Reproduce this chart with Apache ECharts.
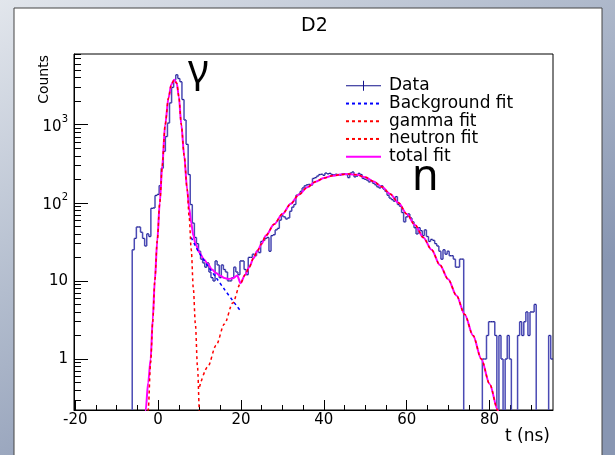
<!DOCTYPE html>
<html><head><meta charset="utf-8">
<script src="https://cdn.jsdelivr.net/npm/echarts@6/dist/echarts.min.js"></script>
<style>html,body{margin:0;padding:0;background:#b8c2d2;}#c{width:615px;height:455px;}</style>
</head><body><div id="c"></div>
<script>
// ---- data ----
const binStart = -6.25;
const binWidth = 0.5;
const counts = [
 25,35,49,49,42,35,28,40,37,85,
 86,124,128,166,277,456,705,1050,1900,3000,
 3750,4350,3900,3550,2100,1150,560,230,95,55,
 36,30,24,19,17,15,17,13,11,10,
 18,16,11,16,14,13,10,10,11,15,
 13,12,18,18,14,12,20,20,22,21,
 24,23,32,33,35,36,24,38,39,45,
 47,60,68,66,62,64,78,88,95,125,
 128,140,155,165,170,172,168,205,210,220,
 230,232,225,240,235,238,230,228,232,228,
 226,234,236,230,210,240,248,215,220,238,
 230,205,200,195,185,190,178,170,160,155,
 165,150,140,125,115,110,105,120,95,90,
 75,57,66,72,64,57,48,40,48,44,
 38,45,37,32,34,33,30,28,24,19,
 25,22,24,21,21,19,15,15,19,19,
 0,0,0,0,0,0,0,0,0,1,
 1,2,3,3,3,2,0,2,1,0,
 1,2,1,0,0,0,2,3,2,3,
 4,2,4,4,5,0,0,0,0,0,
 0,2,1
];
const totalFit = [[-3.3,0.15],[-3.0,0.22],[-2.4,0.5],[-1.8,1.0],[-1.3,3.2],[-0.8,10],[-0.2,33],[0.4,100],[1.0,300],[1.7,1000],[2.5,2200],[3.2,3300],[3.9,3750],[4.5,3400],[5.0,2300],[5.6,1000],[6.3,400],[7.0,150],[7.5,85],[8.0,55],[8.5,38],[9.0,30],[10,23],[11,19],[12,16.5],[13,14],[14,12.6],[15,11.6],[16,10.9],[17,10.6],[18,10.8],[19.1,11.7],[19.9,9.35],[21,12],[22,15],[23,19.5],[24,24.5],[25,30],[26,38],[28,53],[30,72],[32,97],[34,128],[36,158],[38,186],[40,207],[42,222],[44,230],[46,234],[48,228],[50,212],[52,188],[54,160],[56,130],[58,100],[60,72],[62,52],[64,36],[66,25],[68,16],[70,10.5],[72,6.5],[74,3.7],[76,2.0],[78,1.0],[80,0.48],[82,0.22],[82.5,0.17]];
const gammaFit = [[-2.6,0.15],[-2.4,0.22],[-1.8,0.9],[-1.3,3.0],[-0.8,10],[-0.2,33],[0.4,100],[1.0,300],[1.7,1000],[2.5,2200],[3.2,3300],[3.9,3750],[4.5,3400],[5.0,2300],[5.6,1000],[6.3,400],[7.0,150],[7.5,65],[8.0,25],[8.5,8],[9.0,2.8],[9.5,0.8],[10.0,0.2],[10.1,0.15]];
const neutronFit = [[10.0,0.44],[12,0.8],[14,1.5],[16,2.8],[18,5.2],[19.9,9.35],[21,12],[22,15],[23,19.5],[24,24.5],[25,30],[26,38],[28,53],[30,72],[32,97],[34,128],[36,158],[38,186],[40,207],[42,222],[44,230],[46,234],[48,228],[50,212],[52,188],[54,160],[56,130],[58,100],[60,72],[62,52],[64,36],[66,25],[68,16],[70,10.5],[72,6.5],[74,3.7],[76,2.0],[78,1.0],[80,0.48],[82,0.22],[82.5,0.17]];
const bgFit = [[8.0,36],[9,28],[10,22.5],[12,15.5],[14,11],[16,7.8],[18,5.6],[20,4.05]];
const xMajorTicks = [-20,0,20,40,60,80];
const xMinorTicks = [-15,-10,-5,5,10,15,25,30,35,45,50,55,65,70,75,85,90];
const yMajorTicks = [1,10,100,1000];
const yTickLabels = {1:'1',10:'10',100:'{b|10}{s|2}',1000:'{b|10}{s|3}'};
const yMinorTicks = [0.3,0.4,0.5,0.6,0.7,0.8,0.9,2,3,4,5,6,7,8,9,20,30,40,50,60,70,80,90,200,300,400,500,600,700,800,900,2000,3000,4000,5000,6000,7000,8000];
const legendNames = ['Data','Background fit','gamma fit','neutron fit','total fit'];

// ---- build ----
const FLOOR = 1e-3;
const histData = counts.map((c,i)=>[binStart+i*binWidth, binStart+(i+1)*binWidth, c, i>0?counts[i-1]:0]);
const X0=-20.3, X1=95.3, Y0=0.2223, Y1=8040;
const font='DejaVu Sans';
const navy='#12128c', lightNavy='#4a4ab4';
const hiddenSym={color:'rgba(0,0,0,0)',borderColor:'rgba(0,0,0,0)',borderWidth:0};

const chart = echarts.init(document.getElementById('c'), null, {renderer:'canvas'});
const commonX = {type:'value', min:X0, max:X1, position:'bottom', splitLine:{show:false}};
const commonY = {type:'log', logBase:10, min:Y0, max:Y1, position:'left', splitLine:{show:false}};
chart.setOption({
  animation:false,
  backgroundColor:{type:'linear',x:0,y:0,x2:0.4,y2:1,colorStops:[{offset:0,color:'#e2e6ec'},{offset:0.5,color:'#b3bdce'},{offset:1,color:'#8896b2'}]},
  title:{text:'D2',left:296,top:12,textStyle:{fontFamily:font,fontSize:19,fontWeight:'normal',color:'#000'}},
  grid:{left:74,right:62,top:54,bottom:45,show:true,borderColor:'#000',borderWidth:1,backgroundColor:'transparent'},
  legend:{orient:'vertical',left:345,top:77,padding:0,itemWidth:35,itemHeight:14,itemGap:0,
    textStyle:{fontFamily:font,fontSize:17,lineHeight:17.7,color:'#000',padding:[0,0,0,3]},
    data:[{name:legendNames[0],icon:'path://M0,9h70v2h-70z M34,0h2v20h-2z'},
      {name:legendNames[1],itemStyle:hiddenSym},
      {name:legendNames[2],itemStyle:hiddenSym},
      {name:legendNames[3],itemStyle:hiddenSym},
      {name:legendNames[4],itemStyle:hiddenSym}]},
  xAxis:[
    Object.assign({},commonX,{name:'t (ns)',nameLocation:'end',nameGap:-3,
      nameTextStyle:{fontFamily:font,fontSize:17,color:'#000',align:'right',verticalAlign:'top',padding:[18,0,0,0]},
      axisLine:{show:true,onZero:false,lineStyle:{color:'#000'}},
      axisTick:{show:true,inside:true,length:10,customValues:xMajorTicks,lineStyle:{color:'#000'}},
      axisLabel:{show:true,customValues:xMajorTicks,margin:3,fontFamily:font,fontSize:15,color:'#000'}}),
    Object.assign({},commonX,{axisLine:{show:false,onZero:false},
      axisTick:{show:true,inside:true,length:5,customValues:xMinorTicks,lineStyle:{color:'#000'}},
      axisLabel:{show:false}})
  ],
  yAxis:[
    Object.assign({},commonY,{name:'Counts',nameLocation:'end',nameRotate:90,nameGap:-1,
      nameTextStyle:{fontFamily:font,fontSize:14,color:'#000',align:'right',verticalAlign:'bottom',padding:[0,0,23,0]},
      axisLine:{show:true,onZero:false,lineStyle:{color:'#000'}},
      axisTick:{show:true,inside:true,length:14,customValues:yMajorTicks,lineStyle:{color:'#000'}},
      axisLabel:{show:true,customValues:yMajorTicks,margin:6,fontFamily:font,fontSize:15,color:'#000',
        formatter:v=>yTickLabels[Math.round(v)]||'',
        rich:{b:{fontFamily:font,fontSize:15,color:'#000',padding:[5,0,0,0],verticalAlign:'bottom'},
              s:{fontFamily:font,fontSize:10,color:'#000',verticalAlign:'top'}}}}),
    Object.assign({},commonY,{axisLine:{show:false,onZero:false},
      axisTick:{show:true,inside:true,length:7,customValues:yMinorTicks,lineStyle:{color:'#000'}},
      axisLabel:{show:false}})
  ],
  graphic:[
    {type:'rect',z:-10,shape:{x:14,y:8,width:588,height:460},style:{fill:'#fff',stroke:'#444',lineWidth:1}},
    {type:'text',z:100,x:188,y:52,style:{text:'γ',font:'40px "Noto Sans"',fill:'#000',verticalAlign:'top'}},
    {type:'text',z:100,x:412,y:156,style:{text:'n',font:'43px "Noto Sans"',fill:'#000',verticalAlign:'top'}}
  ],
  series:[
    {name:'Data',type:'custom',clip:true,xAxisIndex:0,yAxisIndex:0,itemStyle:{color:navy},
      encode:{x:[0,1],y:2},data:histData,z:2,
      renderItem:(params,api)=>{
        const lo=api.value(0),hi=api.value(1),c=api.value(2),p=api.value(3);
        const yc=api.coord([lo,c>0?c:FLOOR])[1];
        const yp=api.coord([lo,p>0?p:FLOOR])[1];
        const x0=api.coord([lo,1])[0],x1=api.coord([hi,1])[0];
        const ch=[];
        if(c>0) ch.push({type:'line',shape:{x1:x0,y1:yc,x2:x1,y2:yc},style:{stroke:navy,lineWidth:1.3}});
        if(c!==p) ch.push({type:'line',shape:{x1:x0,y1:yp,x2:x0,y2:yc},style:{stroke:lightNavy,lineWidth:1.5}});
        return {type:'group',children:ch};
      }},
    {name:'total fit',type:'line',data:totalFit,symbol:'none',smooth:0.3,smoothMonotone:'x',z:3,
      lineStyle:{color:'#ff00ff',width:2},itemStyle:{color:'#ff00ff'}},
    {name:'Background fit',type:'line',data:bgFit,symbol:'none',smooth:0.3,z:4,
      lineStyle:{color:'#0000ff',width:1.5,type:[3,3]},itemStyle:{color:'#0000ff'}},
    {name:'gamma fit',type:'line',data:gammaFit,symbol:'none',smooth:0.3,smoothMonotone:'x',z:4,
      lineStyle:{color:'#ff0000',width:1.5,type:[3,3]},itemStyle:{color:'#ff0000'}},
    {name:'neutron fit',type:'line',data:neutronFit,symbol:'none',smooth:0.3,smoothMonotone:'x',z:4,
      lineStyle:{color:'#ff0000',width:1.5,type:[3,3]},itemStyle:{color:'#ff0000'}}
  ]
});
</script></body></html>
